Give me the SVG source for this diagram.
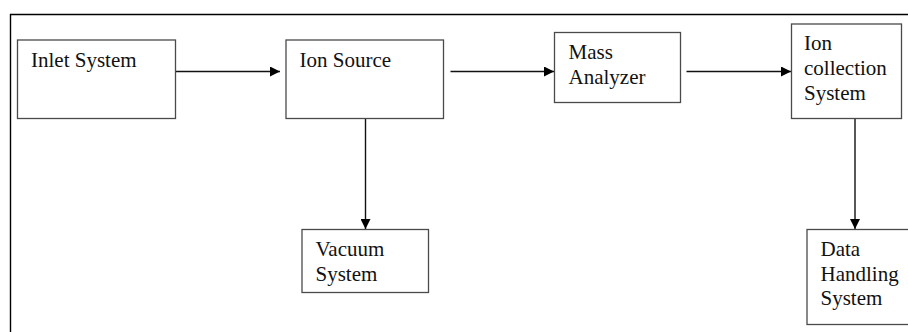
<svg xmlns="http://www.w3.org/2000/svg" width="908" height="332" viewBox="0 0 908 332">
  <style>
    .box { fill: #ffffff; stroke: #4a4a4a; stroke-width: 1.3; }
    .frame { fill: none; stroke: #000000; stroke-width: 1.4; }
    .link { fill: none; stroke: #111111; stroke-width: 1.4; }
    .label { font-family: "Liberation Serif", "Times New Roman", serif; font-size: 21px; fill: #111111; }
  </style>
  <defs>
    <marker id="arrow" viewBox="0 0 10 10" refX="10" refY="5" markerWidth="11" markerHeight="10" markerUnits="userSpaceOnUse" orient="auto">
      <path d="M0,0 L10,5 L0,10 Z" fill="#000000"/>
    </marker>
  </defs>

  <rect width="908" height="332" fill="#ffffff"/>

  <!-- page frame -->
  <path class="frame" d="M10.5,332 V14.5 H908"/>

  <g id="connectors">
    <line class="link" x1="175.5" y1="71.5" x2="280" y2="71.5" marker-end="url(#arrow)"/>
    <line class="link" x1="450.5" y1="71.5" x2="554" y2="71.5" marker-end="url(#arrow)"/>
    <line class="link" x1="686.5" y1="71.5" x2="791" y2="71.5" marker-end="url(#arrow)"/>
    <line class="link" x1="365.5" y1="118.5" x2="365.5" y2="229" marker-end="url(#arrow)"/>
    <line class="link" x1="855" y1="118.5" x2="855" y2="229" marker-end="url(#arrow)"/>
  </g>

  <g id="inlet-system">
    <rect class="box" x="17.5" y="40" width="158" height="78.5"/>
    <text class="label" x="31" y="66.5">Inlet System</text>
  </g>

  <g id="ion-source">
    <rect class="box" x="286" y="40" width="157.5" height="78.5"/>
    <text class="label" x="299.5" y="66.5">Ion Source</text>
  </g>

  <g id="mass-analyzer">
    <rect class="box" x="554.5" y="32.5" width="126" height="70"/>
    <text class="label" x="568.5" y="59">Mass</text>
    <text class="label" x="568.5" y="83.5">Analyzer</text>
  </g>

  <g id="ion-collection-system">
    <rect class="box" x="791.5" y="24" width="110" height="94.5"/>
    <text class="label" x="804" y="50">Ion</text>
    <text class="label" x="804" y="75">collection</text>
    <text class="label" x="804" y="99.5">System</text>
  </g>

  <g id="vacuum-system">
    <rect class="box" x="302" y="229.5" width="126.5" height="63"/>
    <text class="label" x="315.5" y="256">Vacuum</text>
    <text class="label" x="315.5" y="280.5">System</text>
  </g>

  <g id="data-handling-system">
    <rect class="box" x="807" y="229.5" width="110" height="95"/>
    <text class="label" x="820.5" y="256">Data</text>
    <text class="label" x="820.5" y="280.5">Handling</text>
    <text class="label" x="820.5" y="304.5">System</text>
  </g>
</svg>
